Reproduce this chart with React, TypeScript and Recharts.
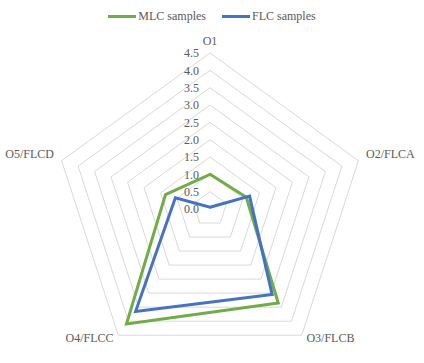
import { RadarChart, Radar, PolarGrid, PolarAngleAxis, PolarRadiusAxis } from 'recharts';

const categories = ['O1', 'O2/FLCA', 'O3/FLCB', 'O4/FLCC', 'O5/FLCD'];
const mlcValues = [1.0, 1.1, 3.35, 4.1, 1.35];
const flcValues = [0.05, 1.2, 3.05, 3.65, 1.05];
const radiusTicks = [0, 0.5, 1, 1.5, 2, 2.5, 3, 3.5, 4, 4.5];

const GREEN = '#70ad47';
const BLUE = '#4472c4';
const TEXT = '#595959';
const FONT = 'Liberation Serif';

const CX = 210;
const CY = 209;
// radius axis ends at 5 (nice domain), so 4.5 sits at 0.9 of the outer radius
const RING = 156;
const OUTER = RING / 0.9;
const LABEL_K = (RING + 8) / (OUTER + 8);

const data = categories.map((name, i) => ({ name, mlc: mlcValues[i], flc: flcValues[i] }));

function RadiusTick({ x, y, payload }: { x: number; y: number; payload: { value: number } }) {
  return (
    <text x={x - 11} y={y} dy="0.35em" textAnchor="end" fontSize={12} fill={TEXT} style={{ fontFamily: FONT }}>
      {payload.value.toFixed(1)}
    </text>
  );
}

function AngleTick({ x, y, payload, textAnchor }: { x: number; y: number; payload: { value: string }; textAnchor: string }) {
  const tx = CX + (x - CX) * LABEL_K;
  const ty = CY + (y - CY) * LABEL_K;
  return (
    <text x={tx} y={ty} textAnchor={textAnchor} fontSize={12} fill={TEXT} style={{ fontFamily: FONT }}>
      {payload.value}
    </text>
  );
}

function Legend() {
  const items = [
    { label: 'MLC samples', color: GREEN },
    { label: 'FLC samples', color: BLUE },
  ];
  return (
    <div style={{ position: 'absolute', top: 9, left: 0, width: 424, display: 'flex', justifyContent: 'center', gap: 16, fontFamily: FONT, fontSize: 12, color: TEXT }}>
      {items.map((it) => (
        <div key={it.label} style={{ display: 'flex', alignItems: 'center' }}>
          <span style={{ display: 'inline-block', width: 28, height: 3, background: it.color, marginRight: 2 }} />
          <span>{it.label}</span>
        </div>
      ))}
    </div>
  );
}

export default function App() {
  return (
    <div style={{ position: 'fixed', left: 0, top: 0, width: 424, height: 363, background: '#fff' }}>
      <Legend />
      <RadarChart width={424} height={363} data={data} cx={CX} cy={CY} outerRadius={OUTER}>
        <PolarGrid gridType="polygon" radialLines={false} stroke="#d9d9d9" />
        <PolarAngleAxis dataKey="name" tick={AngleTick as any} axisLine={false} tickLine={false} />
        <PolarRadiusAxis
          angle={90}
          type="number"
          domain={[0, 5]}
          ticks={radiusTicks as any}
          axisLine={false}
          tickLine={false}
          tick={RadiusTick as any}
        />
        <Radar dataKey="mlc" stroke={GREEN} strokeWidth={3} fill="none" fillOpacity={0} isAnimationActive={false} dot={false} />
        <Radar dataKey="flc" stroke={BLUE} strokeWidth={3} fill="none" fillOpacity={0} isAnimationActive={false} dot={false} />
      </RadarChart>
    </div>
  );
}
